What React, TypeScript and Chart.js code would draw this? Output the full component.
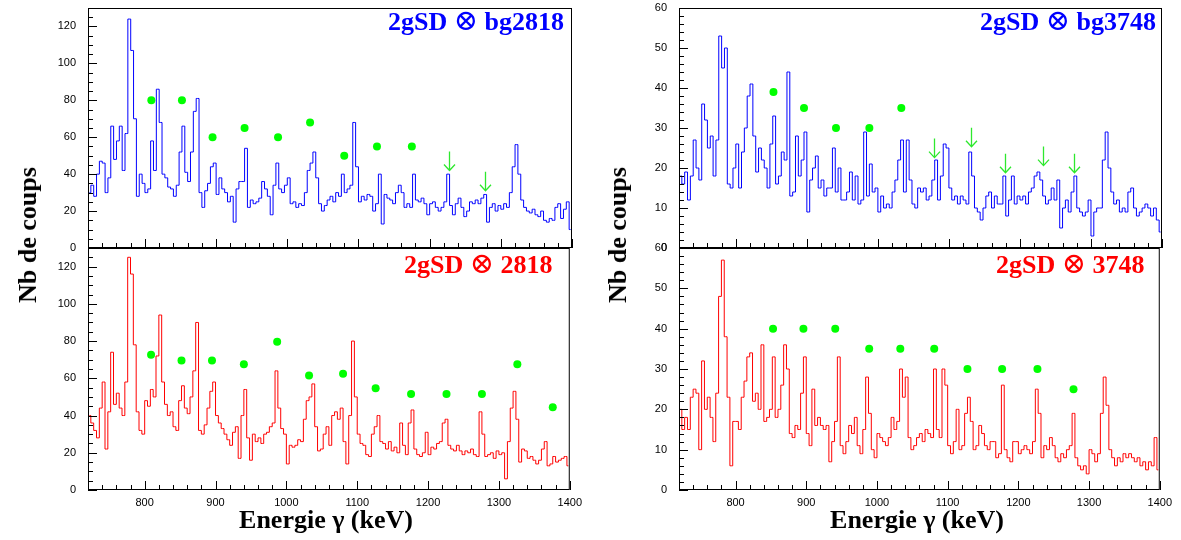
import React, { useEffect, useRef } from "react";
import { Chart, registerables } from "chart.js";
Chart.register(...registerables);

// ---------- DATA ----------
const binCenters = [
  722, 726, 730, 734, 738, 742, 746, 750, 754, 758,
  762, 766, 770, 774, 778, 782, 786, 790, 794, 798,
  802, 806, 810, 814, 818, 822, 826, 830, 834, 838,
  842, 846, 850, 854, 858, 862, 866, 870, 874, 878,
  882, 886, 890, 894, 898, 902, 906, 910, 914, 918,
  922, 926, 930, 934, 938, 942, 946, 950, 954, 958,
  962, 966, 970, 974, 978, 982, 986, 990, 994, 998,
  1002, 1006, 1010, 1014, 1018, 1022, 1026, 1030, 1034, 1038,
  1042, 1046, 1050, 1054, 1058, 1062, 1066, 1070, 1074, 1078,
  1082, 1086, 1090, 1094, 1098, 1102, 1106, 1110, 1114, 1118,
  1122, 1126, 1130, 1134, 1138, 1142, 1146, 1150, 1154, 1158,
  1162, 1166, 1170, 1174, 1178, 1182, 1186, 1190, 1194, 1198,
  1202, 1206, 1210, 1214, 1218, 1222, 1226, 1230, 1234, 1238,
  1242, 1246, 1250, 1254, 1258, 1262, 1266, 1270, 1274, 1278,
  1282, 1286, 1290, 1294, 1298, 1302, 1306, 1310, 1314, 1318,
  1322, 1326, 1330, 1334, 1338, 1342, 1346, 1350, 1354, 1358,
  1362, 1366, 1370, 1374, 1378, 1382, 1386, 1390, 1394, 1398,
];

// 2gSD x bg2818 (top left, blue)
const countsBg2818 = [
  30, 34, 28, 40, 47, 46, 30, 38, 66, 48,
  58, 66, 42, 62, 124, 107, 70, 28, 40, 35,
  30, 32, 58, 42, 86, 68, 40, 38, 33, 32,
  28, 34, 52, 66, 41, 36, 52, 74, 81, 30,
  22, 31, 35, 44, 46, 29, 38, 32, 30, 25,
  28, 14, 32, 36, 36, 54, 22,
  26, 24, 25, 27, 36, 32, 28, 18, 34, 46,
  32, 30, 34, 38, 24, 25, 22, 24, 23, 30,
  42, 46, 52, 38, 24, 20, 23, 26, 28, 25,
  30, 28, 40, 30, 32, 34, 68, 44, 25, 28,
  26, 29, 28, 20, 24, 40, 13, 29, 27, 26,
  24, 30, 34, 30, 22, 24,
  22, 40, 26, 25, 27, 24, 18, 24, 25, 22,
  20, 22, 25, 40, 23, 18, 24, 27, 22, 17,
  20, 25, 24, 26, 24, 27, 29, 14, 22, 24,
  20, 23, 21, 24, 22, 30, 44, 56, 40, 26,
  22, 20, 19, 21, 18, 17, 20, 15, 14, 16,
  15, 22, 24, 16, 21, 25, 10,
];

// 2gSD x 2818 (bottom left, red)
const counts2818 = [
  40, 36, 32, 28, 44, 58, 22, 42, 74, 46,
  52, 44, 40, 58, 125, 116, 78, 42, 32, 30,
  48, 45, 54, 50, 72, 94, 58, 46, 40, 42,
  34, 32, 48, 56, 44, 41, 50, 64, 90, 32,
  30, 35, 44, 53, 58, 40, 36, 33, 30, 27,
  24, 31, 34, 17, 40, 54, 28,
  16, 30, 26, 28, 25, 30, 31, 34, 36, 64,
  44, 33, 30, 14, 24, 23, 24, 27, 26, 38,
  48, 50, 57, 34, 21, 22, 30, 34, 24, 40,
  42, 38, 44, 26, 14, 40, 80, 50, 30, 25,
  24, 19, 18, 30, 34, 40, 26, 25, 22, 26,
  21, 23, 20, 36, 24, 19,
  36, 43, 22, 19, 18, 20, 31, 19, 23, 22,
  25, 26, 36, 38, 24, 22, 21, 24, 21, 19,
  21, 20, 22, 19, 18, 42, 30, 18, 19, 20,
  17, 21, 19, 20, 6, 26, 44, 53, 38, 15,
  22, 21, 17, 18, 16, 14, 16, 22, 26, 13,
  14, 18, 15, 16, 17, 18, 13,
];

// 2gSD x bg3748 (top right, blue)
const countsBg3748 = [
  18, 16, 19, 12, 18, 27, 20, 17, 36, 32,
  25, 28, 18, 27, 53, 45, 50, 16, 15, 20,
  26, 15, 24, 30, 38, 41, 28, 19, 25, 22,
  20, 15, 26, 33, 16, 18, 24, 22, 44, 13,
  14, 28, 18, 22, 29, 9, 17, 20, 23, 15,
  17, 13, 15, 15, 25, 14, 20,
  12, 12, 14, 19, 12, 18, 11, 12, 29, 13,
  21, 14, 15, 9, 13, 10, 11, 10, 14, 17,
  22, 27, 14, 27, 17, 11, 10, 15, 14, 15,
  12, 13, 17, 22, 12, 18, 26, 25, 15, 12,
  13, 11, 13, 12, 11, 24, 18, 10, 9, 7,
  10, 13, 14, 10, 13, 11,
  11, 18, 8, 12, 18, 11, 13, 12, 13, 11,
  14, 15, 18, 19, 17, 13, 11, 12, 15, 12,
  17, 5, 10, 12, 9, 14, 18, 10, 9, 8,
  9, 12, 3, 9, 10, 10, 22, 29, 20, 14,
  11, 12, 9, 10, 9, 14, 15, 10, 8, 9,
  10, 11, 10, 8, 10, 7, 4,
];

// 2gSD x 3748 (bottom right, red)
const counts3748 = [
  20, 15, 18, 15, 23, 25, 24, 10, 32, 20,
  23, 18, 12, 24, 48, 57, 38, 23, 6, 17,
  17, 15, 23, 27, 33, 34, 22, 24, 20, 36,
  17, 18, 20, 33, 18, 20, 26, 36, 30, 14,
  13, 16, 15, 24, 33, 14, 11, 25, 16, 18,
  16, 15, 16, 7, 12, 17, 33,
  11, 9, 12, 16, 14, 18, 11, 9, 15, 28,
  19, 10, 8, 14, 13, 12, 11, 13, 18, 15,
  17, 30, 23, 28, 13, 10, 11, 13, 14, 12,
  15, 14, 13, 30, 15, 13, 30, 26, 11, 9,
  12, 20, 10, 11, 19, 23, 17, 10, 11, 16,
  14, 11, 10, 12, 12, 8,
  9, 26, 10, 8, 7, 12, 12, 9, 10, 11,
  10, 9, 12, 25, 19, 8, 11, 10, 13, 11,
  8, 7, 9, 8, 10, 11, 19, 8, 6, 5,
  6, 4, 10, 9, 7, 9, 19, 28, 21, 10,
  8, 6, 8, 7, 9, 8, 9, 8, 7, 8,
  6, 7, 5, 7, 6, 13, 5,
];

// Green markers (SD band transitions)
const dotsBg2818X = [809, 852, 895, 940, 987, 1032, 1080, 1126, 1175];
const dotsBg2818Y = [80, 80, 60, 65, 60, 68, 50, 55, 55];
const dots2818X = [809, 852, 895, 940, 987, 1032, 1080, 1126, 1176, 1226, 1276, 1326, 1376];
const dots2818Y = [72.6, 69.5, 69.5, 67.6, 79.6, 61.5, 62.5, 54.7, 51.6, 51.6, 51.6, 67.6, 44.4];
const dotsBg3748X = [853, 896, 941, 988, 1033];
const dotsBg3748Y = [39, 35, 30, 30, 35];
const dots3748X = [853, 896, 941, 989, 1033, 1081, 1128, 1177, 1227, 1278];
const dots3748Y = [40, 40, 40, 35, 35, 35, 30, 30, 30, 25];

// Green arrows (x position, arrow tip value)
const arrowsBg2818X = [1227, 1278];
const arrowsBg2818Tip = [42, 31];
const arrowsBg3748X = [1079, 1131, 1179, 1232, 1276];
const arrowsBg3748Tip = [22.6, 25.3, 18.8, 20.6, 18.8];

// Tick labels
const xTickValues = [800, 900, 1000, 1100, 1200, 1300, 1400];
const yTicksLeft = [0, 20, 40, 60, 80, 100, 120];
const yTicksRight = [0, 10, 20, 30, 40, 50, 60];

// Titles: [prefix, operator, suffix]
const titles = [
  ["2gSD ", "⊗", " bg2818"],
  ["2gSD ", "⊗", " 2818"],
  ["2gSD ", "⊗", " bg3748"],
  ["2gSD ", "⊗", " 3748"],
];
const xTitle = "Energie γ (keV)";
const yTitle = "Nb de coups";

// ---------- PANEL CONFIG ----------
type PanelCfg = {
  L: number; T: number; R: number; B: number;
  showX: boolean;
  color: string;
  counts: number[];
  dotsX: number[]; dotsY: number[];
  arrX: number[]; arrTip: number[];
  yMax: number; yTicks: number[]; yMajor: number; yMinor: number;
};

const panels: PanelCfg[] = [
  { L: 88, T: 8, R: 572, B: 248, showX: false, color: "#0000ff", counts: countsBg2818,
    dotsX: dotsBg2818X, dotsY: dotsBg2818Y, arrX: arrowsBg2818X, arrTip: arrowsBg2818Tip,
    yMax: 130, yTicks: yTicksLeft, yMajor: 20, yMinor: 5 },
  { L: 88, T: 248, R: 572, B: 490, showX: true, color: "#ff0000", counts: counts2818,
    dotsX: dots2818X, dotsY: dots2818Y, arrX: [], arrTip: [],
    yMax: 130, yTicks: yTicksLeft, yMajor: 20, yMinor: 5 },
  { L: 679, T: 8, R: 1162, B: 248, showX: false, color: "#0000ff", counts: countsBg3748,
    dotsX: dotsBg3748X, dotsY: dotsBg3748Y, arrX: arrowsBg3748X, arrTip: arrowsBg3748Tip,
    yMax: 60, yTicks: yTicksRight, yMajor: 10, yMinor: 2 },
  { L: 679, T: 248, R: 1162, B: 490, showX: true, color: "#ff0000", counts: counts3748,
    dotsX: dots3748X, dotsY: dots3748Y, arrX: [], arrTip: [],
    yMax: 60, yTicks: yTicksRight, yMajor: 10, yMinor: 2 },
];

const AXW = 50; // y-axis box width
const PT = 24;  // padding above / below frames
const PR = 16;
const XAH = 28; // x-axis box height (bottom panels)

const tickFont = { family: "'Liberation Sans', Arial, sans-serif", size: 11 };

function Panel({ cfg }: { cfg: PanelCfg }) {
  const ref = useRef<HTMLCanvasElement>(null);
  const w = cfg.R - cfg.L + AXW + PR;
  const h = cfg.B - cfg.T + PT + (cfg.showX ? XAH : PT);

  useEffect(() => {
    const axesPlugin = {
      id: "rootAxes",
      afterDatasetsDraw(chart: any) {
        const { ctx, chartArea: a, scales } = chart;
        const xs = scales.x, ys = scales.y;
        ctx.save();
        ctx.strokeStyle = "#000";
        ctx.lineWidth = 1;
        ctx.beginPath();
        for (let v = 0; v <= cfg.yMax + 1e-9; v += cfg.yMinor) {
          const py = Math.round(ys.getPixelForValue(v)) + 0.5;
          const major = Math.abs(v / cfg.yMajor - Math.round(v / cfg.yMajor)) < 1e-6;
          const len = major ? 9 : 5;
          ctx.moveTo(a.left, py);
          ctx.lineTo(a.left + len, py);
        }
        for (let v = 720; v <= 1400; v += 20) {
          const px = Math.round(xs.getPixelForValue(v)) + 0.5;
          const major = v % 100 === 0;
          const len = major ? 9 : 5;
          ctx.moveTo(px, a.bottom);
          ctx.lineTo(px, a.bottom - len);
        }
        ctx.stroke();
        ctx.strokeRect(a.left + 0.5, a.top + 0.5, a.right - a.left - 1, a.bottom - a.top - 1);
        ctx.restore();
      },
    };
    const arrowsPlugin = {
      id: "rootArrows",
      afterDatasetsDraw(chart: any) {
        if (!cfg.arrX.length) return;
        const { ctx, scales } = chart;
        ctx.save();
        ctx.strokeStyle = "#2ee82e";
        ctx.lineWidth = 1.3;
        ctx.beginPath();
        cfg.arrX.forEach((xv, i) => {
          const px = Math.round(scales.x.getPixelForValue(xv)) + 0.5;
          const pt = scales.y.getPixelForValue(cfg.arrTip[i]);
          ctx.moveTo(px, pt - 19);
          ctx.lineTo(px, pt);
          ctx.moveTo(px - 5.5, pt - 6);
          ctx.lineTo(px, pt);
          ctx.lineTo(px + 5.5, pt - 6);
        });
        ctx.stroke();
        ctx.restore();
      },
    };

    const chart = new Chart(ref.current as HTMLCanvasElement, {
      type: "line",
      data: {
        datasets: [
          {
            type: "line",
            data: binCenters.map((c, i) => ({ x: c, y: cfg.counts[i] })),
            borderColor: cfg.color,
            borderWidth: 1,
            pointRadius: 0,
            stepped: "middle",
            fill: false,
          } as any,
          {
            type: "line",
            data: cfg.dotsX.map((d, i) => ({ x: d, y: cfg.dotsY[i] })),
            showLine: false,
            pointRadius: 4,
            pointBackgroundColor: "#00ff00",
            pointBorderWidth: 0,
            borderColor: "#00ff00",
          } as any,
        ],
      },
      options: {
        animation: false,
        responsive: false,
        events: [],
        layout: { padding: { left: 0, top: PT, right: PR, bottom: cfg.showX ? 0 : PT } },
        plugins: { legend: { display: false }, tooltip: { enabled: false } },
        scales: {
          x: {
            type: "linear",
            min: 720,
            max: 1400,
            display: cfg.showX,
            afterBuildTicks: (s: any) => { s.ticks = xTickValues.map((v) => ({ value: v })); },
            afterFit: (s: any) => { s.height = cfg.showX ? XAH : 0; },
            grid: { display: false, drawTicks: false },
            border: { display: false },
            ticks: {
              autoSkip: false, maxRotation: 0, minRotation: 0, padding: 6,
              color: "#000", font: tickFont,
              callback: (v: any) => String(v),
            },
          },
          y: {
            type: "linear",
            min: 0,
            max: cfg.yMax,
            afterBuildTicks: (s: any) => { s.ticks = cfg.yTicks.map((v) => ({ value: v })); },
            afterFit: (s: any) => { s.width = AXW; },
            grid: { display: false, drawTicks: false },
            border: { display: false },
            ticks: {
              autoSkip: false, padding: 12, color: "#000", font: tickFont,
              callback: (v: any) => String(v),
            },
          },
        },
      } as any,
      plugins: [axesPlugin, arrowsPlugin],
    });
    return () => chart.destroy();
  }, []);

  return (
    <canvas
      ref={ref}
      width={w}
      height={h}
      style={{ position: "absolute", left: cfg.L - AXW, top: cfg.T - PT, width: w, height: h }}
    />
  );
}

const serif = "'Liberation Serif', 'Times New Roman', serif";

function Title({ parts, left, baseline, color }: { parts: string[]; left: number; baseline: number; color: string }) {
  return (
    <div
      style={{
        position: "absolute", left, top: baseline - 21.8, fontFamily: serif, fontWeight: "bold",
        fontSize: 26, lineHeight: "26px", color, whiteSpace: "pre",
      }}
    >
      {parts[0]}
      <span style={{ fontWeight: "normal", fontFamily: "'DejaVu Serif', serif", fontSize: 29, lineHeight: "0px" }}>{parts[1]}</span>
      {parts[2]}
    </div>
  );
}

export default function App() {
  return (
    <div style={{ position: "fixed", left: 0, top: 0, width: 1181, height: 540, background: "#fff", overflow: "hidden" }}>
      {panels.map((p, i) => <Panel key={i} cfg={p} />)}
      <Title parts={titles[0]} left={388} baseline={31} color="#0000ff" />
      <Title parts={titles[1]} left={404} baseline={274} color="#ff0000" />
      <Title parts={titles[2]} left={980} baseline={31} color="#0000ff" />
      <Title parts={titles[3]} left={996} baseline={274} color="#ff0000" />
      {[28, 618].map((cx, i) => (
        <div key={"y" + i} style={{
          position: "absolute", left: cx, top: 235, transform: "translate(-50%, -50%) rotate(-90deg)",
          fontFamily: serif, fontWeight: "bold", fontSize: 26, lineHeight: "26px", whiteSpace: "nowrap", color: "#000",
        }}>{yTitle}</div>
      ))}
      {[326, 917].map((cx, i) => (
        <div key={"x" + i} style={{
          position: "absolute", left: cx, top: 507, transform: "translateX(-50%)",
          fontFamily: serif, fontWeight: "bold", fontSize: 26, lineHeight: "26px", whiteSpace: "nowrap", color: "#000",
        }}>{xTitle}</div>
      ))}
    </div>
  );
}
